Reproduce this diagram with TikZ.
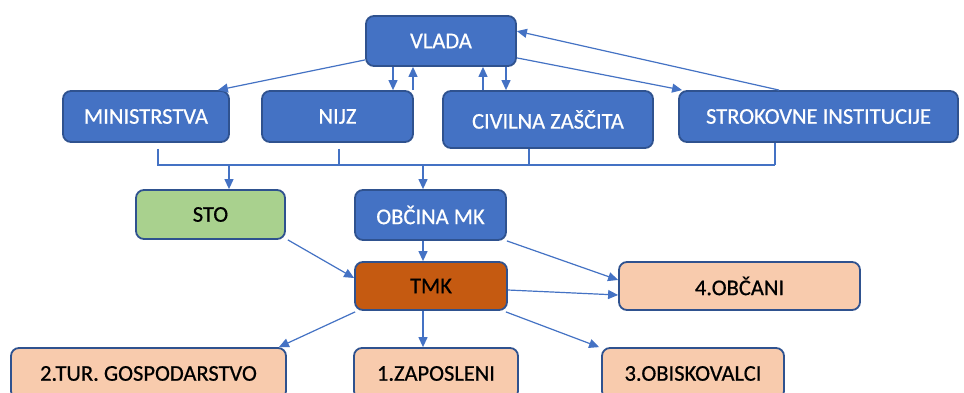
\documentclass[tikz,border=0pt]{standalone}
\usepackage{fontspec}
\setmainfont{Carlito}
\newfontfamily\boxfont{Carlito}[FakeBold=0.6]
\usetikzlibrary{arrows.meta}
\definecolor{obl}{HTML}{4472C4}
\definecolor{obd}{HTML}{2F528F}
\definecolor{ogr}{HTML}{A9D18E}
\definecolor{oor}{HTML}{C55A11}
\definecolor{opc}{HTML}{F8CBAD}
\tikzset{
  bx/.style={draw=obd, line width=1.8pt, rounded corners=8pt, inner sep=0pt,
    font=\boxfont\fontsize{22.5}{26}\selectfont},
  bluebox/.style={bx, fill=obl, text=white},
  greenbox/.style={bx, fill=ogr, text=black},
  orangebox/.style={bx, fill=oor, text=black},
  peachbox/.style={bx, fill=opc, text=black},
  conn/.style={draw=obl, line width=1.2pt},
  arr/.style={conn, -{Triangle[length=10pt,width=9pt]}},
}
\begin{document}
\begin{tikzpicture}[x=1pt,y=-1pt]
\useasboundingbox (0,0) rectangle (964,392);
\clip (0,0) rectangle (964,392);
\fill[white] (0,0) rectangle (964,392);
% nodes
\node[bluebox, minimum width=150pt, minimum height=50pt] (vlada) at (441,41) {VLADA};
\node[bluebox, minimum width=166pt, minimum height=51pt] (min) at (146,116.5) {MINISTRSTVA};
\node[bluebox, minimum width=151pt, minimum height=51pt] (nijz) at (337.5,116.5) {NIJZ};
\node[bluebox, minimum width=210pt, minimum height=57pt] (cz) at (548,119.5) {CIVILNA ZAŠČITA};
\node[bluebox, minimum width=279pt, minimum height=51pt] (strok) at (818.5,116.5) {STROKOVNE INSTITUCIJE};
\node[greenbox, minimum width=149pt, minimum height=49pt] (sto) at (210.5,214.5) {STO};
\node[bluebox, minimum width=151pt, minimum height=50pt] (obc) at (430.5,215) {OBČINA MK};
\node[orangebox, minimum width=152pt, minimum height=48pt] (tmk) at (431,286) {TMK};
\node[peachbox, minimum width=241pt, minimum height=48pt] (obcani) at (739.5,286) {4.OBČANI};
\node[peachbox, minimum width=275pt, minimum height=51pt] (tur) at (148.5,373.5) {2.TUR. GOSPODARSTVO};
\node[peachbox, minimum width=164pt, minimum height=51pt] (zap) at (436,373.5) {1.ZAPOSLENI};
\node[peachbox, minimum width=182pt, minimum height=51pt] (obisk) at (693,373.5) {3.OBISKOVALCI};
% top connectors
\draw[arr] ([yshift=7pt]vlada.south west) -- ([xshift=-12pt]min.north east);
\draw[arr] ([yshift=9pt]vlada.south east) -- ([xshift=4pt]strok.north west);
\draw[arr] ([xshift=101pt]strok.north west) -- ([yshift=-16pt]vlada.north east);
\draw[arr] ([xshift=-48pt]vlada.south) -- ([xshift=-48pt]vlada.south |- nijz.north);
\draw[arr] ([xshift=-28pt]vlada.south |- nijz.north) -- ([xshift=-28pt]vlada.south);
\draw[arr] ([xshift=42pt]vlada.south |- cz.north) -- ([xshift=42pt]vlada.south);
\draw[arr] ([xshift=65pt]vlada.south) -- ([xshift=65pt]vlada.south |- cz.north);
% bus
\coordinate (bl) at (158,165);
\coordinate (br) at (775,165);
\draw[conn] ([xshift=12pt,yshift=-6pt]min.south) -- ([xshift=12pt]min.south |- bl) -- (br);
\draw[conn] ([xshift=1.5pt,yshift=-6pt]nijz.south) -- ([xshift=1.5pt]nijz.south |- bl);
\draw[conn] ([xshift=-19pt]cz.south) -- ([xshift=-19pt]cz.south |- bl);
\draw[conn] ([xshift=-43.5pt]strok.south) -- (br);
\draw[arr] ([xshift=18.5pt]sto.north |- bl) -- ([xshift=18.5pt]sto.north);
\draw[arr] ([xshift=-7.5pt]obc.north |- bl) -- ([xshift=-7.5pt]obc.north);
% middle connectors
\draw[arr] ([xshift=2pt]sto.south east) -- ([yshift=8pt]tmk.west);
\draw[arr] ([xshift=-8pt]tmk.north |- obc.south) -- ([xshift=-8pt]tmk.north);
\draw[arr] (obc.south east) -- ([yshift=6pt]obcani.west);
\draw[arr] ([yshift=-4pt]tmk.east) -- ([yshift=-9pt]obcani.west);
% bottom connectors
\draw[arr] ([xshift=1pt,yshift=-1pt]tmk.south west) -- ([xshift=-8pt]tur.north east);
\draw[arr] ([xshift=-8pt]tmk.south) -- ([xshift=-8pt]tmk.south |- zap.north);
\draw[arr] ([xshift=-2pt,yshift=-1pt]tmk.south east) -- ([xshift=-2pt]obisk.north west);
\end{tikzpicture}
\end{document}
